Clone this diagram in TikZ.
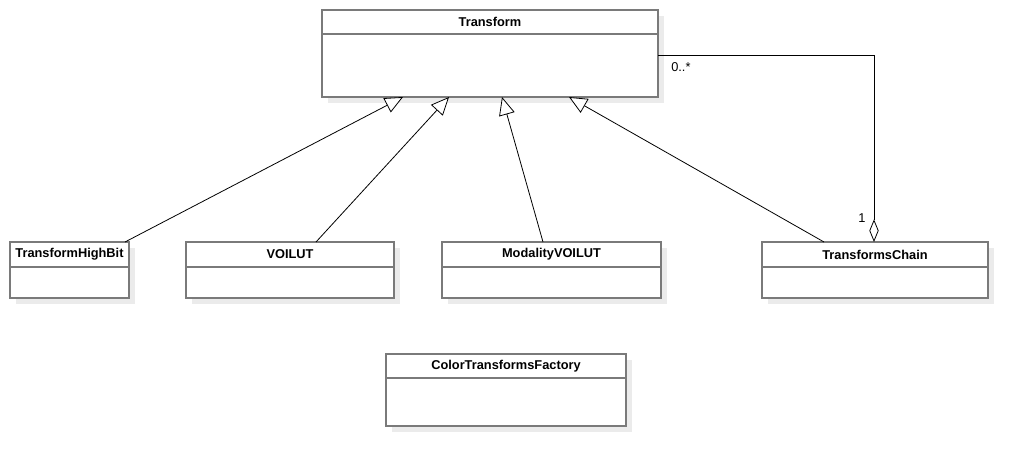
\documentclass[tikz,border=0pt]{standalone}
\usepackage{fontspec}
\setmainfont{Liberation Sans}
\usetikzlibrary{positioning,calc,arrows.meta,shadows}
\definecolor{boxgray}{HTML}{7A7A7A}
\definecolor{shadowgray}{HTML}{EBEBEB}

\begin{document}
\begin{tikzpicture}[
        x=0.75pt, y=-0.75pt,
        classhead/.style={rectangle, draw=boxgray, line width=1pt, fill=white, inner sep=0pt, outer sep=0pt, anchor=north west,
            font=\fontsize{9.6}{11}\selectfont\bfseries,
            drop shadow={shadow xshift=4.5pt, shadow yshift=-4.5pt, fill=shadowgray, opacity=1}},
        classbody/.style={classhead, below=0pt of #1},
        generalization/.style={draw=black, line width=0.6pt, -{Triangle[fill=white, length=13.5pt, width=12pt]}},
        aggregation/.style={draw=black, line width=0.6pt, -{Diamond[fill=white, length=17pt, width=7pt]}},
        mult/.style={font=\fontsize{9.6}{11}\selectfont, inner sep=0pt}
    ]
    \useasboundingbox (0,0) rectangle (1028,466);

    % base class
    \node[classhead, minimum width=252pt, minimum height=18pt] (transform) at (322,10) {Transform};
    \node[classbody=transform, minimum width=252pt, minimum height=47.25pt] (transformbody) {};

    % subclasses
    \node[classhead, minimum width=89.25pt, minimum height=18.75pt] (highbit) at (10,242) {TransformHighBit};
    \node[classbody=highbit, minimum width=89.25pt, minimum height=23.25pt] (highbitbody) {};
    \node[classhead, minimum width=156pt, minimum height=18.75pt] (voilut) at (186,242) {VOILUT};
    \node[classbody=voilut, minimum width=156pt, minimum height=23.25pt] (voilutbody) {};
    \node[classhead, minimum width=164.25pt, minimum height=18.75pt] (modality) at (442,242) {ModalityVOILUT};
    \node[classbody=modality, minimum width=164.25pt, minimum height=23.25pt] (modalitybody) {};
    \node[classhead, minimum width=169.5pt, minimum height=18.75pt] (chain) at (762,242) {TransformsChain};
    \node[classbody=chain, minimum width=169.5pt, minimum height=23.25pt] (chainbody) {};

    % factory
    \node[classhead, minimum width=180pt, minimum height=18pt] (factory) at (386,354) {ColorTransformsFactory};
    \node[classbody=factory, minimum width=180pt, minimum height=36pt] (factorybody) {};

    % inheritance
    \draw[generalization] ($(highbit.north west)+(115,0)$) -- ($(transformbody.south west)+(81,0)$);
    \draw[generalization] ($(voilut.north west)+(130,0)$) -- ($(transformbody.south west)+(127,0)$);
    \draw[generalization] ($(modality.north west)+(101,0)$) -- ($(transformbody.south west)+(180,0)$);
    \draw[generalization] ($(chain.north west)+(62,0)$) -- ($(transformbody.south west)+(247,0)$);

    % aggregation
    \draw[aggregation] ($(transformbody.north east)+(0,21)$) -| ($(chain.north west)+(112,0)$);
    \node[mult, anchor=west] (manylabel) at (671,67) {0..*};
    \node[mult] (onelabel) at (862,218) {1};
\end{tikzpicture}
\end{document}
